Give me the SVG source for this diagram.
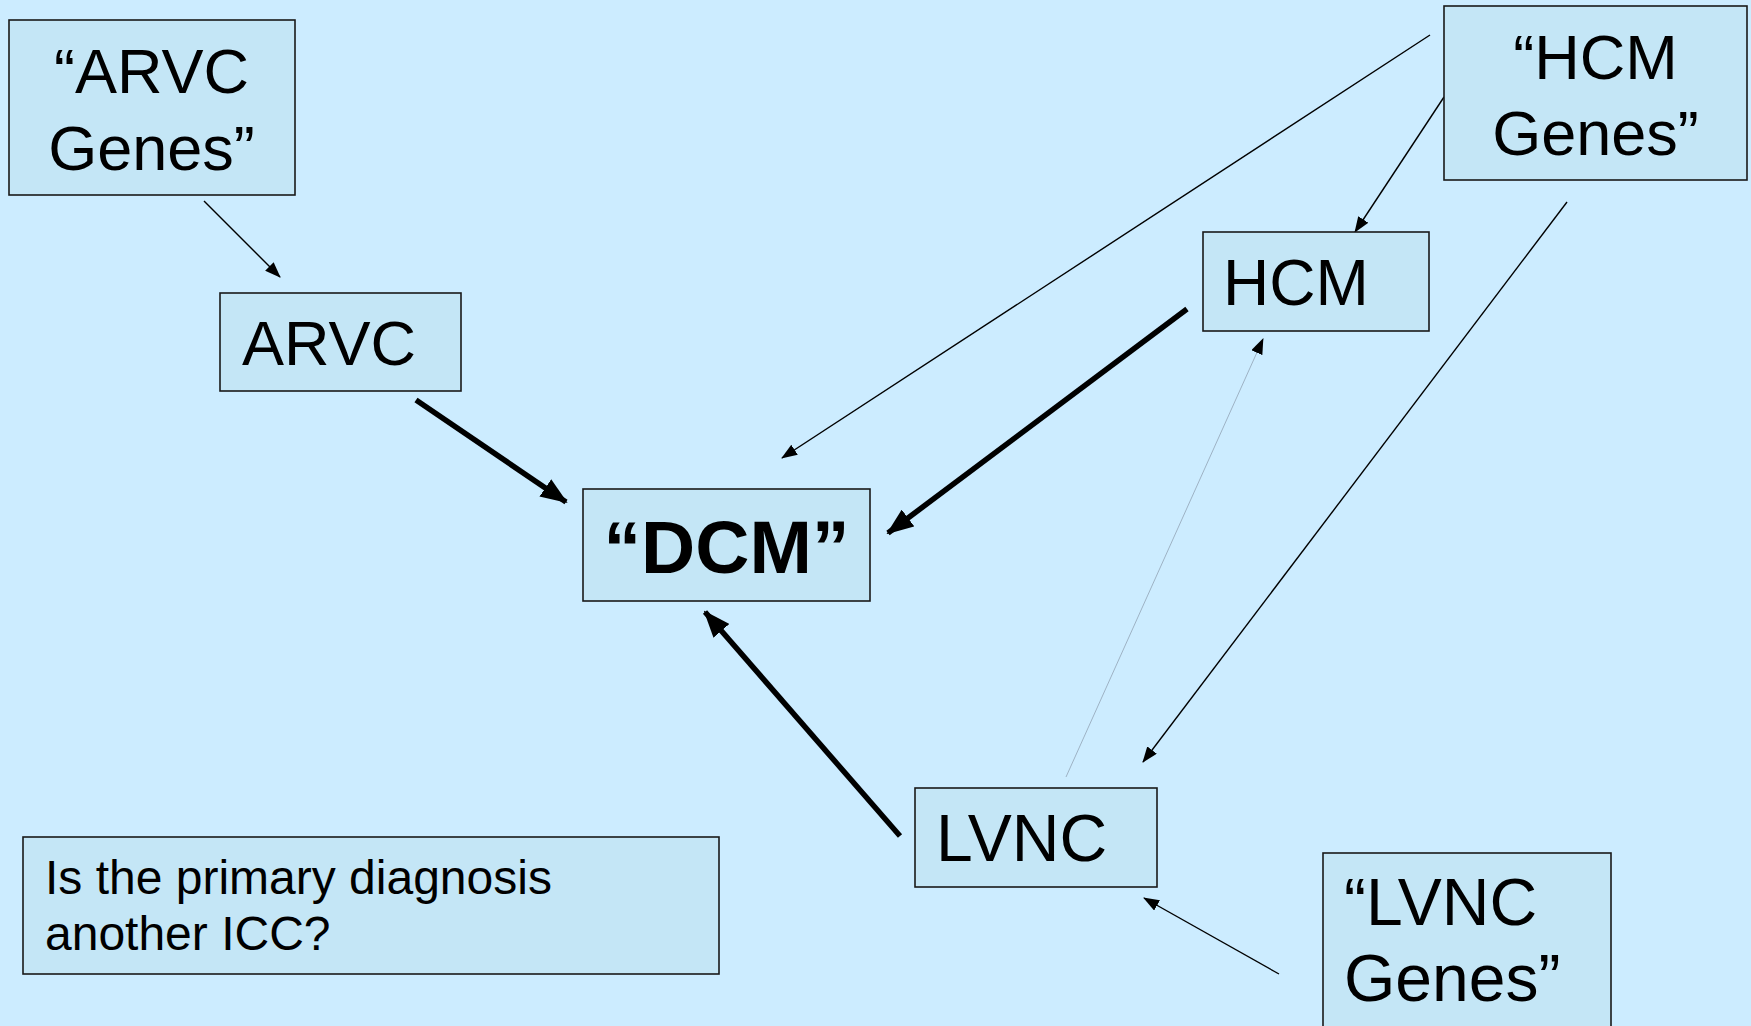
<svg xmlns="http://www.w3.org/2000/svg" width="1751" height="1026" viewBox="0 0 1751 1026">
<style>
.box{fill:#C4E6F6;stroke:#1a1a1a;stroke-width:1.6}
.t{font-family:"Liberation Sans",Arial,sans-serif;font-size:63px;fill:#000}
.t2{font-family:"Liberation Sans",Arial,sans-serif;font-size:66px;fill:#000}
.q{font-family:"Liberation Sans",Arial,sans-serif;font-size:48px;fill:#000}
.b{font-family:"Liberation Sans",Arial,sans-serif;font-size:75px;font-weight:bold;fill:#000}
.thin{stroke:#000;stroke-width:1.4;fill:none;marker-end:url(#ah)}
.thick{stroke:#000;stroke-width:5.5;fill:none;marker-end:url(#ahb)}
.faint{stroke:#8a9aaa;stroke-width:0.7;fill:none;marker-end:url(#ah)}
</style>
<defs>
<marker id="ah" viewBox="0 0 16 12" markerWidth="16" markerHeight="12" refX="15" refY="6" orient="auto" markerUnits="userSpaceOnUse"><path d="M0,0 L16,6 L0,12 z" fill="#000"/></marker>
<marker id="ahb" viewBox="0 0 27 21" markerWidth="27" markerHeight="21" refX="25" refY="10.5" orient="auto" markerUnits="userSpaceOnUse"><path d="M0,0 L27,10.5 L0,21 z" fill="#000"/></marker>
</defs>
<rect x="0" y="0" width="1751" height="1026" fill="#CCECFF"/>
<g id="connectors">
<line class="thin" x1="204" y1="201" x2="280" y2="277"/>
<line class="thick" x1="416" y1="400" x2="566" y2="502"/>
<line class="thick" x1="1187" y1="309" x2="888" y2="533"/>
<line class="thin" x1="1430" y1="35" x2="782" y2="458"/>
<line class="thin" x1="1444" y1="97" x2="1355" y2="232"/>
<line class="thin" x1="1567" y1="202" x2="1143" y2="762"/>
<line class="faint" x1="1066" y1="777" x2="1263" y2="339"/>
<line class="thick" x1="900" y1="836" x2="705" y2="612"/>
<line class="thin" x1="1279" y1="974" x2="1144" y2="898"/>
</g>
<g id="arvc-genes"><rect class="box" x="9" y="20" width="286" height="175"/><text class="t" x="151.5" y="93" text-anchor="middle">“ARVC</text><text class="t" x="151.5" y="170" text-anchor="middle">Genes”</text></g>
<g id="arvc"><rect class="box" x="220" y="293" width="241" height="98"/><text class="t" x="242" y="365">ARVC</text></g>
<g id="dcm"><rect class="box" x="583" y="489" width="287" height="112"/><text class="b" x="726.5" y="573" text-anchor="middle">“DCM”</text></g>
<g id="hcm"><rect class="box" x="1203" y="232" width="226" height="99"/><text class="t" x="1223" y="305" style="font-size:64px">HCM</text></g>
<g id="hcm-genes"><rect class="box" x="1444" y="6" width="303" height="174"/><text class="t" x="1595.5" y="79" text-anchor="middle">“HCM</text><text class="t" x="1595.5" y="155" text-anchor="middle">Genes”</text></g>
<g id="lvnc"><rect class="box" x="915" y="788" width="242" height="99"/><text class="t2" x="936" y="861">LVNC</text></g>
<g id="lvnc-genes"><rect class="box" x="1323" y="853" width="288" height="185"/><text class="t2" x="1344" y="925">“LVNC</text><text class="t2" x="1344" y="1001">Genes”</text></g>
<g id="question"><rect class="box" x="23" y="837" width="696" height="137"/><text class="q" x="45" y="894">Is the primary diagnosis</text><text class="q" x="45" y="950">another ICC?</text></g>
</svg>
